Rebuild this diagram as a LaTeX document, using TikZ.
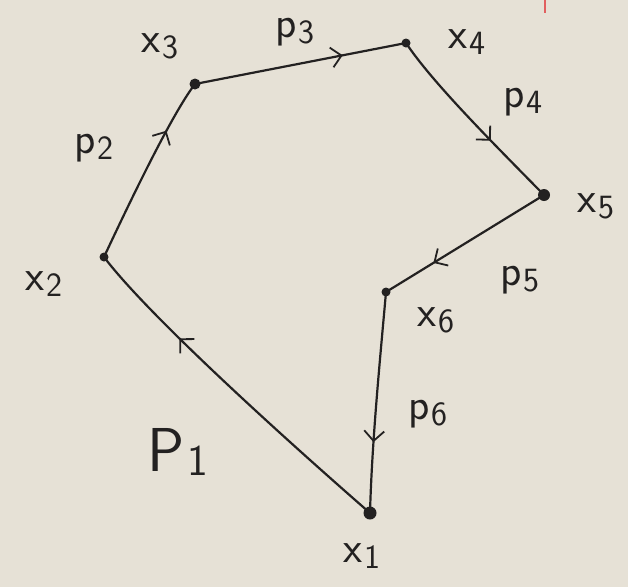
\documentclass[tikz,border=0pt]{standalone}
\usetikzlibrary{arrows.meta,decorations.markings}
\definecolor{paper}{RGB}{230,225,214}
\definecolor{ink}{RGB}{35,33,33}
\definecolor{redmark}{RGB}{225,95,95}
\newcommand{\lbl}[2]{#1\kern2pt\raisebox{-0.3ex}{\fontsize{34}{34}\selectfont #2}}
\tikzset{
  pt/.style={circle,fill=ink,inner sep=0pt,minimum size=#1},
  pt/.default=8pt,
  edge/.style={draw=ink,line width=2.2pt,
    postaction={decorate,decoration={markings,
      mark=at position #1 with {\arrow[ink,line width=1.8pt]{Straight Barb[length=10pt,width=20pt]}}}}},
  lab/.style={text=ink,font=\sffamily\fontsize{44}{44}\selectfont,inner sep=0pt}
}
\begin{document}
\begin{tikzpicture}[x=1pt,y=-1pt]
\fill[paper] (0,0) rectangle (628,587);
\useasboundingbox (0,0) rectangle (628,587);
\draw[redmark,line width=1.8pt] (545,0) -- (545,13);
% points
\node[pt=13pt] (x1) at (370,513) {};
\node[pt=9pt] (x2) at (104,257) {};
\node[pt=11pt] (x3) at (195,84) {};
\node[pt=9pt] (x4) at (406,43) {};
\node[pt=12pt] (x5) at (544,195) {};
\node[pt=9pt] (x6) at (386,292) {};
% edges
\draw[edge=0.70] (x1.center) .. controls (300,452) and (150,318) .. (x2.center);
\draw[edge=0.72] (x2.center) .. controls (140,180) and (175,110) .. (x3.center);
\draw[edge=0.70] (x3.center) -- (x4.center);
\draw[edge=0.63] (x4.center) .. controls (432,82) and (490,140) .. (x5.center);
\draw[edge=0.70] (x5.center) -- (x6.center);
\draw[edge=0.68] (x6.center) .. controls (380,360) and (372,440) .. (x1.center);
% labels
\node[lab] (lx1) at (362,556) {\lbl{x}{1}};
\node[lab] (lx2) at (44,284) {\lbl{x}{2}};
\node[lab] (lx3) at (160,46) {\lbl{x}{3}};
\node[lab] (lx4) at (467,42) {\lbl{x}{4}};
\node[lab] (lx5) at (596,206) {\lbl{x}{5}};
\node[lab] (lx6) at (436,320) {\lbl{x}{6}};
\node[lab,font=\sffamily\fontsize{62}{62}\selectfont] (lp1) at (178,452) {P\kern3pt\raisebox{-0.15ex}{\fontsize{44}{44}\selectfont 1}};
\node[lab] (lp2) at (94,148) {\lbl{p}{2}};
\node[lab] (lp3) at (295,32) {\lbl{p}{3}};
\node[lab] (lp4) at (523,102) {\lbl{p}{4}};
\node[lab] (lp5) at (520,280) {\lbl{p}{5}};
\node[lab] (lp6) at (428,414) {\lbl{p}{6}};
\end{tikzpicture}
\end{document}
